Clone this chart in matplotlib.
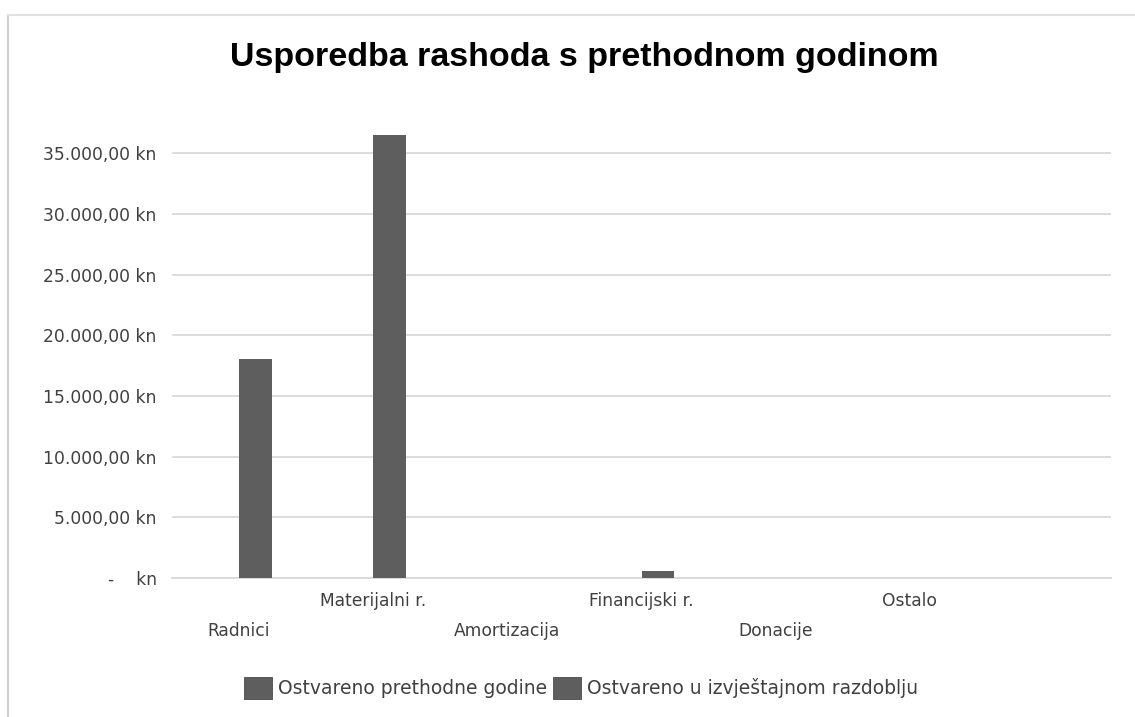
import matplotlib.pyplot as plt
import numpy as np
from matplotlib.lines import Line2D
from matplotlib.patches import Patch

# data
categories = ["Radnici", "Materijalni r.", "Amortizacija", "Financijski r.", "Donacije", "Ostalo", ""]
prev_year = [0, 0, 0, 0, 0, 0, 0]          # Ostvareno prethodne godine
curr_period = [18000, 36500, 0, 550, 0, 0, 0]  # Ostvareno u izvještajnom razdoblju
yticks = [0, 5000, 10000, 15000, 20000, 25000, 30000, 35000]
series_names = ["Ostvareno prethodne godine", "Ostvareno u izvještajnom razdoblju"]

bar_col = "#5e5e5e"
txt_col = "#404040"
grid_col = "#d9d9d9"

def kn_fmt(v):
    if v == 0:
        return "-    kn"
    s = "{:,.2f}".format(v)
    s = s.replace(",", "X").replace(".", ",").replace("X", ".")
    return s + " kn"

fig = plt.figure(figsize=(11.35, 7.17), dpi=100)
W, H = 1135.0, 717.0
ymax = 38000
ax_left, ax_right, ax_bottom = 172, 1111, 578
px_per_unit = 60.7 / 5000
ax_top = ax_bottom - ymax * px_per_unit
ax = fig.add_axes([ax_left / W, 1 - ax_bottom / H, (ax_right - ax_left) / W, (ax_bottom - ax_top) / H])

x = np.arange(len(categories))
w = 0.246
ax.bar(x - w / 2, prev_year, w, color=bar_col, linewidth=0, zorder=3)
ax.bar(x + w / 2, curr_period, w, color=bar_col, linewidth=0, zorder=3)

ax.set_xlim(-0.5, len(categories) - 0.5)
ax.set_ylim(0, ymax)
ax.set_yticks(yticks)
ax.set_yticklabels([kn_fmt(v) for v in yticks], fontsize=12.3, color=txt_col)
ax.grid(axis="y", color=grid_col, linewidth=1.3, zorder=0)
ax.tick_params(axis="y", length=0, pad=11)
ax.tick_params(axis="x", length=0, labelsize=12.3, labelcolor=txt_col)
for s in ["top", "right", "left"]:
    ax.spines[s].set_visible(False)
ax.spines["bottom"].set_color(grid_col)
ax.spines["bottom"].set_linewidth(1.3)

ax.set_xticks(x)
ax.set_xticklabels(categories)
for i, t in enumerate(ax.xaxis.get_major_ticks()):
    t.set_pad(32 if i % 2 == 0 else 10)

fig.text(0.515, 0.92, "Usporedba rashoda s prethodnom godinom", ha="center", va="center",
         fontsize=24.5, fontweight="bold", family="Liberation Sans", color="#000000")

handles = [Patch(facecolor=bar_col, edgecolor="#4a4a4a", linewidth=0.6, label=n) for n in series_names]
fig.legend(handles=handles, loc="center", bbox_to_anchor=(581 / W, 1 - 688 / H), ncol=2,
           frameon=False, fontsize=13.5, labelcolor=txt_col, handlelength=1.5, handleheight=1.5,
           handletextpad=0.3, columnspacing=0.3)

# chart area border
fig.add_artist(Line2D([8 / W, 8 / W], [0, 1 - 15 / H], color="#d0d0d0", linewidth=1.5))
fig.add_artist(Line2D([8 / W, 1], [1 - 15 / H, 1 - 15 / H], color="#e0e0e0", linewidth=1.5))

fig.savefig("out.png", dpi=100)
